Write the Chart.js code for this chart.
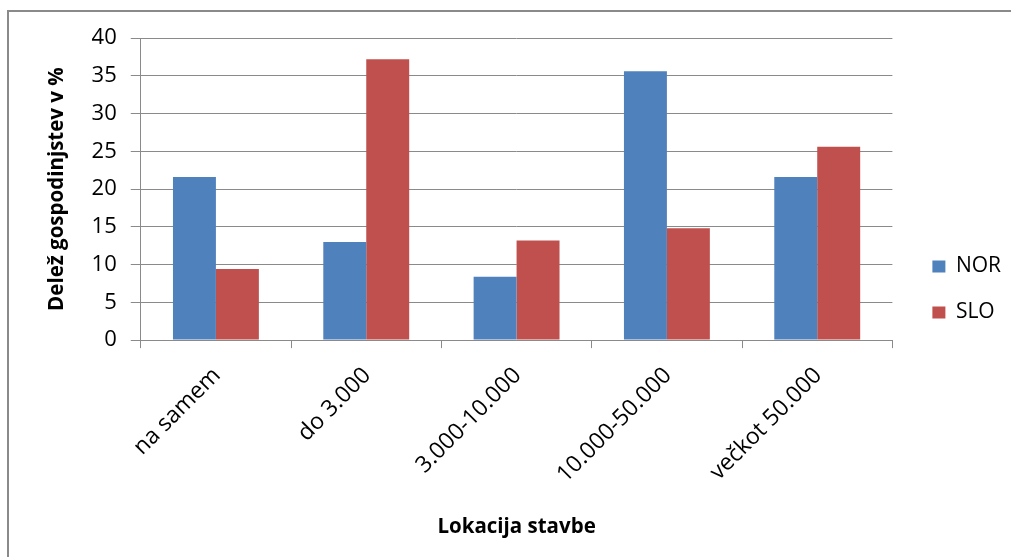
<!DOCTYPE html>
<html lang="sl">
<head>
<meta charset="utf-8">
<title>Delež gospodinjstev po lokaciji stavbe</title>
<script src="https://cdn.jsdelivr.net/npm/chart.js@4/dist/chart.umd.min.js"></script>
<style>
  html, body { margin: 0; padding: 0; background: #ffffff; }
  #wrap { position: relative; width: 1011px; height: 557px; overflow: hidden; }
  #frame {
    position: absolute; left: 7px; top: 10px; width: 1200px; height: 800px;
    border-left: 2px solid #8a8a8a; border-top: 2px solid #8a8a8a;
    pointer-events: none;
  }
  canvas { position: absolute; left: 0; top: 0; }
</style>
</head>
<body>
<div id="wrap">
  <canvas id="chart" width="1011" height="557"></canvas>
  <div id="frame"></div>
</div>
<script>
// Velikost naselja, v katerem stoji stavba
const categories = ['na samem', 'do 3.000', '3.000-10.000', '10.000-50.000', 'večkot 50.000'];
// Delež gospodinjstev (%) po državah
const norValues = [21.6, 13.0, 8.4, 35.6, 21.6];
const sloValues = [9.4, 37.2, 13.2, 14.8, 25.6];
const seriesNames = ['NOR', 'SLO'];
// Oznake na navpični osi
const yTickValues = [0, 5, 10, 15, 20, 25, 30, 35, 40];

const axisGray = '#8a8a8a';
const family = '"Open Sans", "Noto Sans", sans-serif';
const yTickFont = { family, size: 22 };
const xTickFont = { family, size: 23 };
const legendFont = { family, size: 21 };
const titleFont = { family, size: 20.5, weight: 'bold' };

// Legenda stoji nekoliko desno od roba risalne površine
const legendNudge = {
  id: 'legendNudge',
  afterLayout(chart) {
    const lg = chart.legend;
    if (lg) { lg.left += 15; lg.right += 15; }
  }
};

new Chart(document.getElementById('chart'), {
  type: 'bar',
  data: {
    labels: categories,
    datasets: [
      { label: seriesNames[0], data: norValues, backgroundColor: '#4f81bd' },
      { label: seriesNames[1], data: sloValues, backgroundColor: '#c0504d' }
    ]
  },
  options: {
    responsive: false,
    animation: false,
    events: [],
    layout: { padding: { top: 38, left: 10, right: 15, bottom: 16 } },
    datasets: { bar: { categoryPercentage: 2 / 3.5, barPercentage: 1.0 } },
    plugins: {
      tooltip: { enabled: false },
      legend: {
        position: 'right',
        align: 'center',
        labels: {
          boxWidth: 13,
          boxHeight: 12,
          padding: 25,
          color: '#000000',
          font: legendFont
        }
      }
    },
    scales: {
      x: {
        offset: true,
        grid: { display: true, drawOnChartArea: false, drawTicks: true, tickLength: 8, offset: true, color: axisGray },
        border: { display: true, color: axisGray },
        ticks: { minRotation: 45, maxRotation: 45, padding: 14, labelOffset: 1, color: '#000000', font: xTickFont, autoSkip: false },
        title: { display: true, text: 'Lokacija stavbe', color: '#000000', font: titleFont, padding: { top: 12, bottom: 2 } }
      },
      y: {
        min: 0,
        max: 40,
        afterBuildTicks(scale) { scale.ticks = yTickValues.map(v => ({ value: v })); },
        grid: { color: axisGray, drawTicks: true, tickLength: 10 },
        border: { display: true, color: axisGray },
        ticks: { padding: 14, color: '#000000', font: yTickFont },
        title: { display: true, text: 'Delež gospodinjstev v %', color: '#000000', font: titleFont, padding: { top: 35, bottom: 8 } }
      }
    }
  },
  plugins: [legendNudge]
});
</script>
</body>
</html>
